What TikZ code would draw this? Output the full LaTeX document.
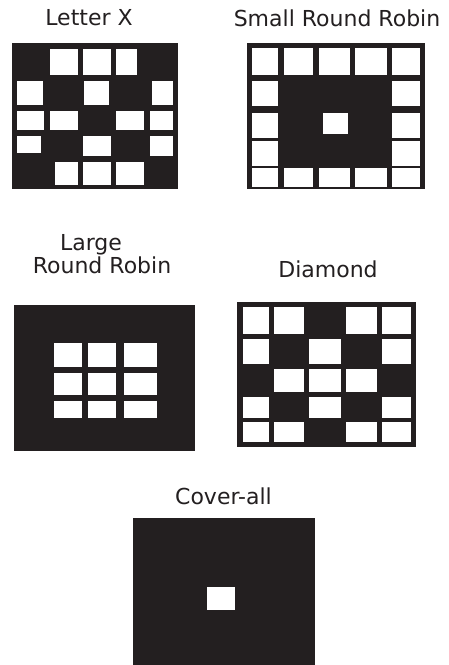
\documentclass[tikz,border=0pt]{standalone}
\usepackage{fontspec}
\setmainfont{DejaVu Sans}
\usepackage{tikz}
\definecolor{ink}{HTML}{231F20}

\begin{document}
\begin{tikzpicture}[x=1pt,y=-1pt,
    panel/.style={fill=ink},
    cell/.style={fill=white},
    title/.style={anchor=base,inner sep=0pt,text=ink,font=\fontsize{22}{26}\selectfont}]
  \useasboundingbox (0,0) rectangle (448,665);
  % titles
  \node[title] (letterx) at (89,25.7) {Letter X};
  \node[title] (smallrr) at (337,26.5) {Small Round Robin};
  \node[title] (largerr) at (91,250) {Large};
  \node[title] (largerr2) at (102,273) {Round Robin};
  \node[title] (diamond) at (328,277) {Diamond};
  \node[title] (coverall) at (223.5,504) {Cover-all};
  % Letter X
  \fill[panel] (12,43) rectangle (178,189);
  \foreach \xa/\ya/\xb/\yb in {50/49/78/75, 83/49/111/75, 116/49/137/75,
      17/81/43/105, 84/81/109/105, 152/81/173/105,
      17/111/44/130, 50/111/78/130, 116/111/144/130, 150/111/173/130,
      17/136/41/153, 83/136/111/156, 150/136/173/156,
      55/162/78/185, 83/162/111/185, 116/162/144/185}
    \fill[cell] (\xa,\ya) rectangle (\xb,\yb);
  % Small Round Robin
  \fill[panel] (247,43) rectangle (425,189);
  \foreach \xa/\xb in {252/278, 284/313, 319/350, 355/387, 392/420} {
    \fill[cell] (\xa,48) rectangle (\xb,75);
    \fill[cell] (\xa,168) rectangle (\xb,187);
  }
  \foreach \ya/\yb in {81/106, 113/138, 141/166} {
    \fill[cell] (252,\ya) rectangle (278,\yb);
    \fill[cell] (392,\ya) rectangle (420,\yb);
  }
  \fill[cell] (323,113) rectangle (348,134);
  % Large Round Robin
  \fill[panel] (14,305) rectangle (195,451);
  \foreach \xa/\xb in {54/82, 88/116, 124/157}
    \foreach \ya/\yb in {343/367, 373/395, 401/418}
      \fill[cell] (\xa,\ya) rectangle (\xb,\yb);
  % Diamond
  \fill[panel] (237,302) rectangle (416,447);
  \foreach \xa/\ya/\xb/\yb in {243/307/269/334, 274/307/304/334, 346/307/377/334, 382/307/411/334,
      243/339/269/364, 309/339/341/364, 382/339/411/364,
      274/369/304/392, 309/369/341/392, 346/369/377/392,
      243/397/269/418, 309/397/341/418, 382/397/411/418,
      243/422/269/442, 274/422/304/442, 346/422/377/442, 382/422/411/442}
    \fill[cell] (\xa,\ya) rectangle (\xb,\yb);
  % Cover-all
  \fill[panel] (133,518) rectangle (315,665);
  \fill[cell] (207,587) rectangle (235,610);
\end{tikzpicture}
\end{document}
